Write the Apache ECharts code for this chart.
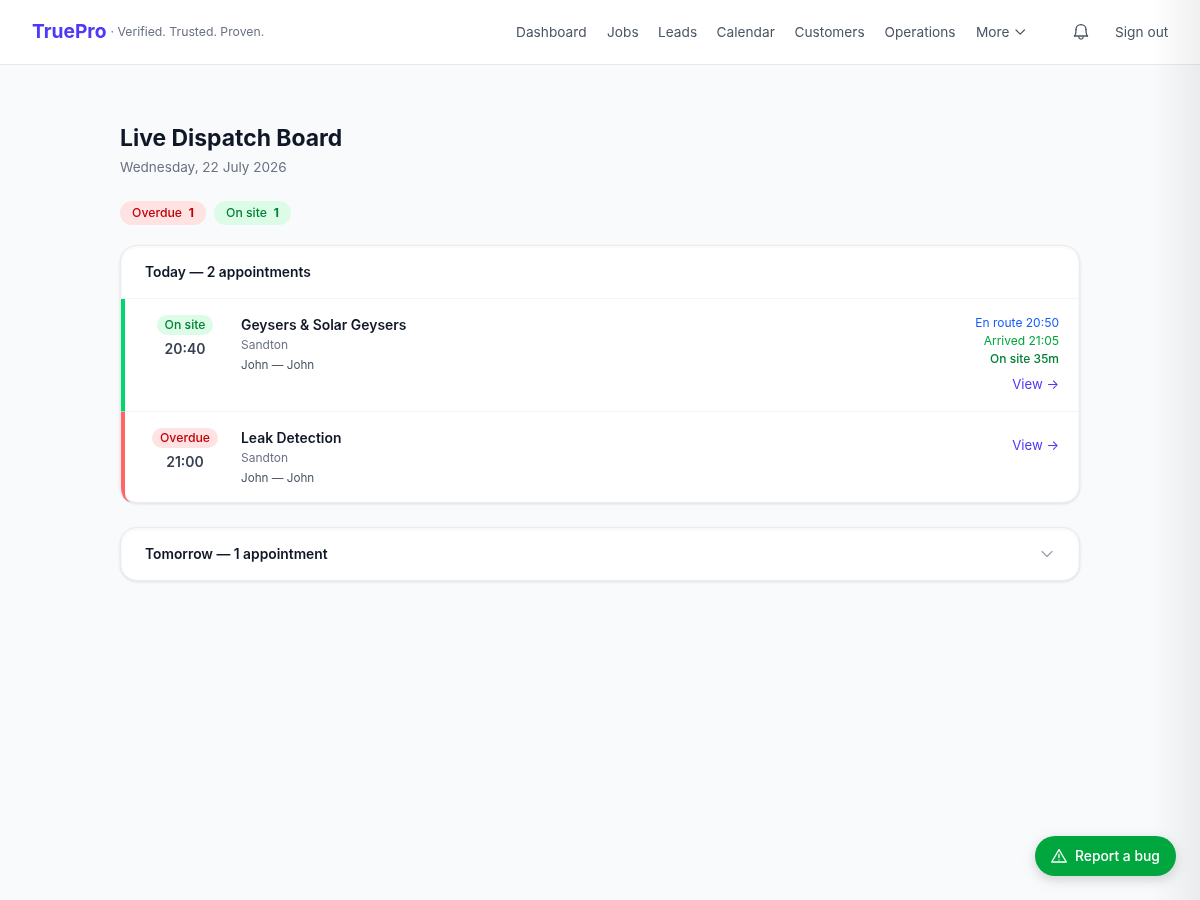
<!DOCTYPE html>
<html>
<head>
<meta charset="utf-8">
<title>Live Dispatch Board</title>
<script src="https://cdn.jsdelivr.net/npm/echarts@6/dist/echarts.min.js"></script>
<style>
  html, body { margin: 0; padding: 0; background: #f9fafb; }
  #main { width: 1200px; height: 900px; }
</style>
</head>
<body>
<div id="main"></div>
<script>
var brand = 'TruePro';
var tagline = '· Verified. Trusted. Proven.';
var navLabels = ['Dashboard', 'Jobs', 'Leads', 'Calendar', 'Customers', 'Operations', 'More'];
var signOut = 'Sign out';
var pageTitle = 'Live Dispatch Board';
var pageDate = 'Wednesday, 22 July 2026';
var summaryLabels = ['Overdue', 'On site'];
var summaryCounts = [1, 1];
var todayHeader = 'Today — 2 appointments';
var tomorrowHeader = 'Tomorrow — 1 appointment';
var jobStatus = ['On site', 'Overdue'];
var jobTimes = ['20:40', '21:00'];
var jobTitles = ['Geysers & Solar Geysers', 'Leak Detection'];
var jobAreas = ['Sandton', 'Sandton'];
var jobCrew = ['John — John', 'John — John'];
var progressLines = ['En route 20:50', 'Arrived 21:05', 'On site 35m'];
var viewLabel = 'View →';
var bugLabel = 'Report a bug';

var FF = 'Inter, "Noto Sans", sans-serif';
var els = [];

function txt(s, x, y, size, weight, color, align) {
  els.push({
    type: 'text',
    silent: true,
    style: {
      text: String(s), x: x, y: y + 0.5,
      fill: color,
      font: weight + ' ' + size + 'px ' + FF,
      textAlign: align || 'left',
      textVerticalAlign: 'middle'
    }
  });
}

function box(x, y, w, h, r, fill, extra) {
  var style = { fill: fill };
  for (var k in extra) style[k] = extra[k];
  els.push({ type: 'rect', silent: true, shape: { x: x, y: y, width: w, height: h, r: r }, style: style });
}

function stroke(points, color, width) {
  els.push({
    type: 'polyline',
    silent: true,
    shape: { points: points },
    style: { fill: null, stroke: color, lineWidth: width, lineCap: 'round', lineJoin: 'round' }
  });
}

function curve(x1, y1, cx1, cy1, cx2, cy2, x2, y2, color, width) {
  els.push({
    type: 'bezierCurve',
    silent: true,
    shape: { x1: x1, y1: y1, cpx1: cx1, cpy1: cy1, cpx2: cx2, cpy2: cy2, x2: x2, y2: y2 },
    style: { fill: null, stroke: color, lineWidth: width, lineCap: 'round' }
  });
}

var cardStyle = { stroke: '#e9ebef', lineWidth: 1, shadowBlur: 3, shadowOffsetY: 1, shadowColor: 'rgba(0,0,0,0.09)' };

// nav bar
box(0, 0, 1200, 64, 0, '#ffffff');
box(0, 64, 1200, 1, 0, '#e5e7eb');
txt(brand, 32, 32, 19.2, 700, '#4f39f6');
txt(tagline, 110.5, 31.5, 12.25, 400, '#6a7282');
var navX = [516, 607, 658, 716.5, 794.5, 884.5, 976];
navLabels.forEach(function (n, i) { txt(n, navX[i], 32, 13.7, 400, '#4a5565'); });
stroke([[1016, 30], [1020.2, 34.2], [1024.4, 30]], '#4a5565', 1.2);
// bell
curve(1074.5, 36, 1076, 34.5, 1076, 32, 1076, 29.5, '#4a5565', 1.3);
curve(1076, 29.5, 1076, 26.5, 1078.2, 24.6, 1081, 24.6, '#4a5565', 1.3);
curve(1081, 24.6, 1083.8, 24.6, 1086, 26.5, 1086, 29.5, '#4a5565', 1.3);
curve(1086, 29.5, 1086, 32, 1086, 34.5, 1087.5, 36, '#4a5565', 1.3);
stroke([[1074.5, 36], [1087.5, 36]], '#4a5565', 1.3);
curve(1078.8, 37, 1079.2, 39.8, 1082.8, 39.8, 1083.2, 37, '#4a5565', 1.3);
txt(signOut, 1115, 32, 13.7, 400, '#4a5565');

// heading
txt(pageTitle, 120, 139, 22.9, 700, '#101828');
txt(pageDate, 120, 167, 13.55, 400, '#6a7282');

// summary pills
box(120, 201, 86, 24, 12, '#ffe2e2');
txt(summaryLabels[0], 132, 213, 12.25, 500, '#c10007');
txt(summaryCounts[0], 194, 213, 12, 700, '#c10007', 'right');
box(214, 201, 77, 24, 12, '#dcfce7');
txt(summaryLabels[1], 226, 213, 12.25, 500, '#008236');
txt(summaryCounts[1], 279, 213, 12, 700, '#008236', 'right');

// today card
box(120.5, 245.5, 959, 257, 16, '#ffffff', cardStyle);
txt(todayHeader, 145, 272, 13.83, 600, '#101828');
box(121, 298, 958, 1, 0, '#f3f4f6');
box(125, 411, 954, 1, 0, '#f3f4f6');
box(121, 299, 4, 112.5, 0, '#00d66b');
els.push({
  type: 'polygon',
  silent: true,
  shape: { points: [[121, 412], [125, 412], [125, 493], [125.6, 497], [127.5, 500], [130.5, 502], [127, 501], [123.5, 497.5], [121.5, 492], [121, 488]] },
  style: { fill: '#ff6467' }
});

var pillColors = [['#dcfce7', '#008236'], ['#ffe2e2', '#c10007']];
var pillWidths = [56, 66];
var rowTop = [299, 412];
jobStatus.forEach(function (s, i) {
  var t = rowTop[i];
  box(185 - pillWidths[i] / 2, t + 16, pillWidths[i], 20, 10, pillColors[i][0]);
  txt(s, 185, t + 26, 12.25, 500, pillColors[i][1], 'center');
  txt(jobTimes[i], 185, t + 50, 14, 600, '#364153', 'center');
  txt(jobTitles[i], 241, t + 26, 13.9, 600, '#101828');
  txt(jobAreas[i], 241, t + 46, 12, 400, '#6a7282');
  txt(jobCrew[i], 241, t + 66, 11.7, 400, '#4a5565');
});

var progressColors = ['#155dfc', '#00a63e', '#008236'];
var progressWeights = [400, 400, 500];
progressLines.forEach(function (p, i) {
  txt(p, 1059, 323 + i * 18, 12, progressWeights[i], progressColors[i], 'right');
});
txt(viewLabel, 1059, 385, 13.2, 400, '#4f39f6', 'right');
txt(viewLabel, 1059, 446, 13.2, 400, '#4f39f6', 'right');

// tomorrow card
box(120.5, 527.5, 959, 53, 16, '#ffffff', cardStyle);
txt(tomorrowHeader, 145, 554, 13.83, 600, '#101828');
stroke([[1042, 551.5], [1047, 556.5], [1052, 551.5]], '#99a1af', 1.2);

// right edge shade
els.push({
  type: 'rect',
  silent: true,
  shape: { x: 1152, y: 0, width: 48, height: 900 },
  style: {
    fill: new echarts.graphic.LinearGradient(0, 0, 1, 0, [
      { offset: 0, color: 'rgba(0,0,0,0)' },
      { offset: 1, color: 'rgba(0,0,0,0.06)' }
    ])
  }
});

// bug button
box(1035, 836, 141, 40, 20, '#00a63e', { shadowBlur: 12, shadowOffsetY: 4, shadowColor: 'rgba(0,0,0,0.16)' });
stroke([[1059, 849.7], [1066.3, 862], [1051.7, 862], [1059, 849.7]], '#ffffff', 1.3);
stroke([[1059, 854.5], [1059, 857.5]], '#ffffff', 1.3);
stroke([[1059, 859.8], [1059, 859.9]], '#ffffff', 1.3);
txt(bugLabel, 1075, 856, 13.85, 500, '#ffffff');

var chart = echarts.init(document.getElementById('main'));
chart.setOption({
  backgroundColor: '#f9fafb',
  animation: false,
  graphic: { elements: els }
});
</script>
</body>
</html>
